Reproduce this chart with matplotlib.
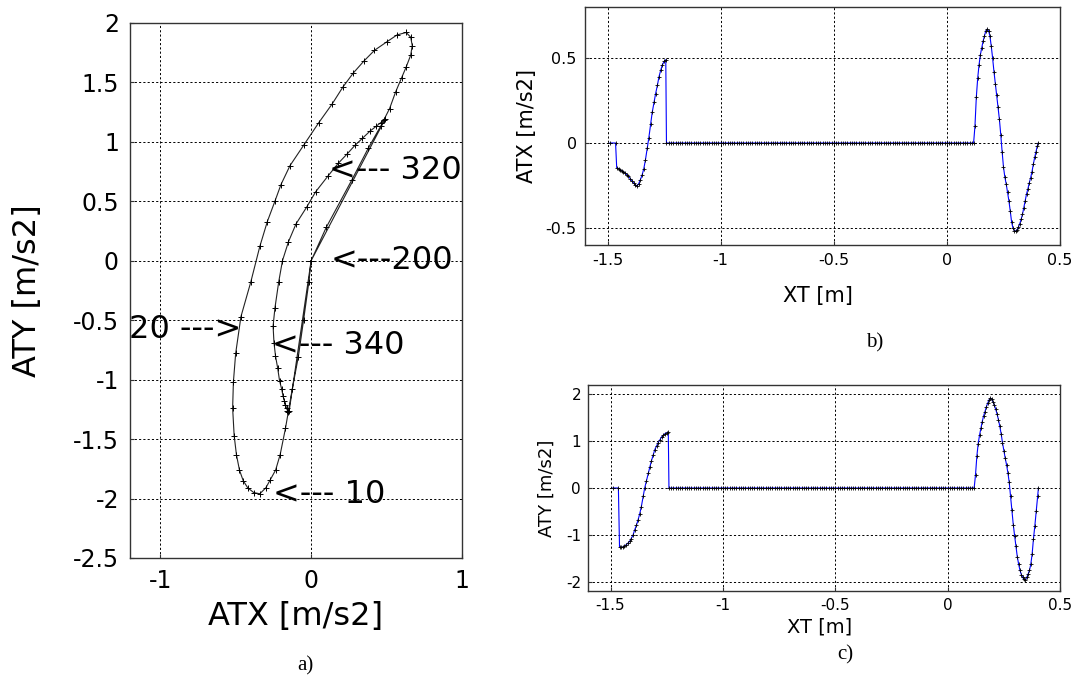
import matplotlib
matplotlib.use("Agg")
import matplotlib.pyplot as plt

plt.rcParams['font.family'] = ['DejaVu Sans']
plt.rcParams['axes.unicode_minus'] = False

# ---------------- data ----------------
start_xt = [-1.490, -1.465]
start_atx = [0.0, 0.0]
start_aty = [0.0, 0.0]

rise_xt = [-1.460, -1.452, -1.445, -1.438, -1.430, -1.423, -1.415, -1.408, -1.400, -1.393,
           -1.385, -1.378, -1.370, -1.363, -1.355, -1.348, -1.340, -1.333, -1.325, -1.318,
           -1.310, -1.303, -1.295, -1.288, -1.280, -1.273, -1.265, -1.258, -1.250, -1.243]
rise_atx = [-0.145, -0.150, -0.157, -0.163, -0.170, -0.177, -0.186, -0.195, -0.209, -0.222,
            -0.236, -0.246, -0.252, -0.240, -0.215, -0.190, -0.150, -0.100, -0.030, 0.030,
            0.110, 0.180, 0.240, 0.290, 0.340, 0.390, 0.430, 0.460, 0.480, 0.490]
rise_aty = [-1.26, -1.27, -1.26, -1.24, -1.21, -1.18, -1.14, -1.08, -1.01, -0.90,
            -0.80, -0.69, -0.55, -0.40, -0.18, 0.00, 0.16, 0.31, 0.45, 0.58,
            0.71, 0.82, 0.90, 0.97, 1.03, 1.09, 1.13, 1.16, 1.18, 1.19]

dwell_xt = [-1.24, -1.23, -1.22, -1.21, -1.20, -1.19, -1.18, -1.17, -1.16, -1.15,
            -1.14, -1.13, -1.12, -1.11, -1.10, -1.09, -1.08, -1.07, -1.06, -1.05,
            -1.04, -1.03, -1.02, -1.01, -1.00, -0.99, -0.98, -0.97, -0.96, -0.95,
            -0.94, -0.93, -0.92, -0.91, -0.90, -0.89, -0.88, -0.87, -0.86, -0.85,
            -0.84, -0.83, -0.82, -0.81, -0.80, -0.79, -0.78, -0.77, -0.76, -0.75,
            -0.74, -0.73, -0.72, -0.71, -0.70, -0.69, -0.68, -0.67, -0.66, -0.65,
            -0.64, -0.63, -0.62, -0.61, -0.60, -0.59, -0.58, -0.57, -0.56, -0.55,
            -0.54, -0.53, -0.52, -0.51, -0.50, -0.49, -0.48, -0.47, -0.46, -0.45,
            -0.44, -0.43, -0.42, -0.41, -0.40, -0.39, -0.38, -0.37, -0.36, -0.35,
            -0.34, -0.33, -0.32, -0.31, -0.30, -0.29, -0.28, -0.27, -0.26, -0.25,
            -0.24, -0.23, -0.22, -0.21, -0.20, -0.19, -0.18, -0.17, -0.16, -0.15,
            -0.14, -0.13, -0.12, -0.11, -0.10, -0.09, -0.08, -0.07, -0.06, -0.05,
            -0.04, -0.03, -0.02, -0.01, 0.00, 0.01, 0.02, 0.03, 0.04, 0.05,
            0.06, 0.07, 0.08, 0.09, 0.10, 0.11]
dwell_atx = [0.0] * len(dwell_xt)
dwell_aty = [0.0] * len(dwell_xt)

outer_xt = [0.118, 0.124, 0.130, 0.136, 0.142, 0.148, 0.154, 0.160, 0.166, 0.172,
            0.178, 0.184, 0.190, 0.196, 0.202, 0.208, 0.214, 0.220, 0.226, 0.232,
            0.238, 0.244, 0.250, 0.256, 0.262, 0.268, 0.274, 0.280, 0.286, 0.292,
            0.298, 0.304, 0.310, 0.316, 0.322, 0.328, 0.334, 0.340, 0.346, 0.352,
            0.358, 0.364, 0.370, 0.376, 0.382, 0.388, 0.394, 0.400, 0.404]
outer_atx = [0.00, 0.10, 0.27, 0.38, 0.46, 0.52, 0.56, 0.60, 0.63, 0.66,
             0.67, 0.66, 0.63, 0.57, 0.50, 0.42, 0.35, 0.28, 0.21, 0.14,
             0.05, -0.05, -0.14, -0.20, -0.24, -0.29, -0.34, -0.40, -0.465, -0.50,
             -0.515, -0.52, -0.51, -0.495, -0.475, -0.45, -0.42, -0.38, -0.34, -0.30,
             -0.27, -0.235, -0.205, -0.17, -0.125, -0.085, -0.05, -0.015, 0.00]
outer_aty = [0.00, 0.28, 0.68, 0.95, 1.13, 1.28, 1.42, 1.54, 1.63, 1.73,
             1.81, 1.88, 1.92, 1.90, 1.84, 1.77, 1.68, 1.58, 1.46, 1.32,
             1.16, 0.97, 0.80, 0.64, 0.50, 0.33, 0.12, -0.18, -0.47, -0.78,
             -1.02, -1.24, -1.47, -1.63, -1.76, -1.85, -1.91, -1.95, -1.96, -1.91,
             -1.84, -1.76, -1.63, -1.41, -1.08, -0.81, -0.50, -0.18, 0.00]

XT = start_xt + rise_xt + dwell_xt + outer_xt
ATX = start_atx + rise_atx + dwell_atx + outer_atx
ATY = start_aty + rise_aty + dwell_aty + outer_aty

# annotations in panel a: (text, x, y, ha)
notes_text = ['<--- 320', '<---200', '20 --->', '<--- 340', '<--- 10']
notes_x = [0.12, 0.13, -0.465, -0.26, -0.25]
notes_y = [0.76, 0.0, -0.58, -0.71, -1.97]
notes_ha = ['left', 'left', 'right', 'left', 'left']

a_xticks = [-1, 0, 1]
a_yticks = [-2.5, -2, -1.5, -1, -0.5, 0, 0.5, 1, 1.5, 2]
b_xticks = [-1.5, -1, -0.5, 0, 0.5]
b_yticks = [-0.5, 0, 0.5]
c_yticks = [-2, -1, 0, 1, 2]


def fmt(v):
    return '%g' % v


def style(ax, fs):
    ax.grid(True, color='black', linestyle=(0, (2.2, 2.2)), linewidth=0.7)
    ax.tick_params(direction='in', length=3, labelsize=fs, pad=6, color='#333333')
    for sp in ax.spines.values():
        sp.set_color('#333333')
        sp.set_linewidth(1.0)


fig = plt.figure(figsize=(10.79, 6.88), dpi=100)

# ---------------- panel a ----------------
axa = fig.add_axes([0.1205, 0.189, 0.3077, 0.7776])
axa.plot(ATX, ATY, color='#222222', lw=0.8)
axa.plot(ATX, ATY, '+', color='black', ms=4.5, mew=0.7)
axa.set_xlim(-1.2, 1.0)
axa.set_ylim(-2.5, 2.0)
axa.set_xticks(a_xticks)
axa.set_xticklabels([fmt(v) for v in a_xticks])
axa.set_yticks(a_yticks)
axa.set_yticklabels([fmt(v) for v in a_yticks])
style(axa, 17)
axa.tick_params(pad=8)
axa.set_xlabel('ATX [m/s2]', fontsize=23, va='center')
axa.xaxis.set_label_coords(0.5, -0.11)
axa.set_ylabel('ATY [m/s2]', fontsize=23, va='center')
axa.yaxis.set_label_coords(-0.31, 0.5)
for t, x, y, ha in zip(notes_text, notes_x, notes_y, notes_ha):
    axa.text(x, y, t, fontsize=23, ha=ha, va='center', clip_on=False)

# ---------------- panel b ----------------
axb = fig.add_axes([0.5422, 0.6439, 0.4402, 0.3459])
axb.plot(XT, ATX, color='blue', lw=0.8)
axb.plot(XT, ATX, '+', color='black', ms=3.5, mew=0.6)
axb.set_xlim(-1.6, 0.5)
axb.set_ylim(-0.6, 0.8)
axb.set_xticks(b_xticks)
axb.set_xticklabels([fmt(v) for v in b_xticks])
axb.set_yticks(b_yticks)
axb.set_yticklabels([fmt(v) for v in b_yticks])
style(axb, 11.5)
axb.set_xlabel('XT [m]', fontsize=15, va='center')
axb.xaxis.set_label_coords(0.49, -0.214)
axb.set_ylabel('ATX [m/s2]', fontsize=15, va='center')
axb.yaxis.set_label_coords(-0.122, 0.5)

# ---------------- panel c ----------------
axc = fig.add_axes([0.545, 0.141, 0.4374, 0.2994])
axc.plot(XT, ATY, color='blue', lw=0.8)
axc.plot(XT, ATY, '+', color='black', ms=3.5, mew=0.6)
axc.set_xlim(-1.6, 0.5)
axc.set_ylim(-2.2, 2.2)
axc.set_xticks(b_xticks)
axc.set_xticklabels([fmt(v) for v in b_xticks])
axc.set_yticks(c_yticks)
axc.set_yticklabels([fmt(v) for v in c_yticks])
style(axc, 11)
axc.tick_params(pad=5)
axc.set_xlabel('XT [m]', fontsize=14, va='center')
axc.xaxis.set_label_coords(0.49, -0.175)
axc.set_ylabel('ATY [m/s2]', fontsize=13, va='center')
axc.yaxis.set_label_coords(-0.087, 0.5)

# ---------------- panel letters ----------------
serif = ['Liberation Serif', 'DejaVu Serif']
fig.text(305 / 1079, 1 - 666 / 688, 'a)', family=serif, fontsize=15, ha='center', va='center')
fig.text(875 / 1079, 1 - 343 / 688, 'b)', family=serif, fontsize=15, ha='center', va='center')
fig.text(845 / 1079, 1 - 655 / 688, 'c)', family=serif, fontsize=15, ha='center', va='center')

fig.savefig('out.png', dpi=100)
